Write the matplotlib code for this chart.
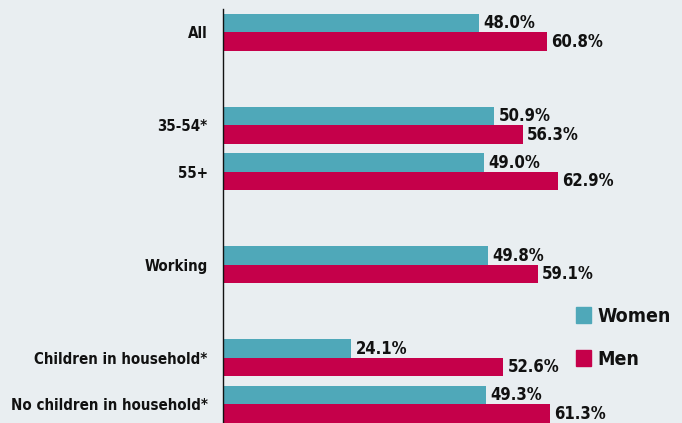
import matplotlib.pyplot as plt
import numpy as np
from matplotlib.patches import Patch

# chart data
categories = ['All', '', '35-54*', '55+', '', 'Working', '',
              'Children in household*', 'No children in household*']
women = [48.0, None, 50.9, 49.0, None, 49.8, None, 24.1, 49.3]
men = [60.8, None, 56.3, 62.9, None, 59.1, None, 52.6, 61.3]

women_color = '#4fa8b9'
men_color = '#c5004a'
bg = '#e9eef1'

plt.rcParams['font.family'] = ['DejaVu Sans']
plt.rcParams['font.stretch'] = 'condensed'

fig = plt.figure(figsize=(6.82, 4.23), dpi=100, facecolor=bg)
ax = fig.add_axes([223 / 682, 0, 1 - 223 / 682, (423 - 9) / 423])
ax.set_facecolor(bg)

h = 0.4
pos = np.arange(len(categories))
for i, (w, m) in enumerate(zip(women, men)):
    if w is None:
        continue
    ax.barh(i - h / 2, w, height=h, color=women_color)
    ax.barh(i + h / 2, m, height=h, color=men_color)
    ax.annotate(f'{w:.1f}%', (w, i - h / 2), xytext=(3, 0), textcoords='offset points',
                va='center', ha='left', fontsize=12, fontweight='bold', color='#111111')
    ax.annotate(f'{m:.1f}%', (m, i + h / 2), xytext=(3, 0), textcoords='offset points',
                va='center', ha='left', fontsize=12, fontweight='bold', color='#111111')

ax.set_xlim(0, (682 - 223) / 5.33)
ax.set_ylim(8.4, -0.5)
ax.set_yticks(pos)
ax.set_yticklabels(categories, fontsize=10.8, fontweight='bold', color='#111111')
ax.tick_params(axis='y', length=0, pad=11)
ax.set_xticks([])
for s in ['top', 'right', 'bottom']:
    ax.spines[s].set_visible(False)
ax.spines['left'].set_color('#111111')
ax.spines['left'].set_linewidth(1)

handles = [Patch(color=women_color, label='Women'), Patch(color=men_color, label='Men')]
leg = fig.legend(handles=handles, loc='upper left', bbox_to_anchor=(558 / 682, 1 - 289 / 423),
                 frameon=False, prop={'size': 14, 'weight': 'bold', 'stretch': 'condensed'},
                 handlelength=0.8, handleheight=0.85, handletextpad=0.35, labelspacing=1.25)
for t in leg.get_texts():
    t.set_color('#111111')

fig.savefig('out.png', dpi=100, facecolor=bg)
